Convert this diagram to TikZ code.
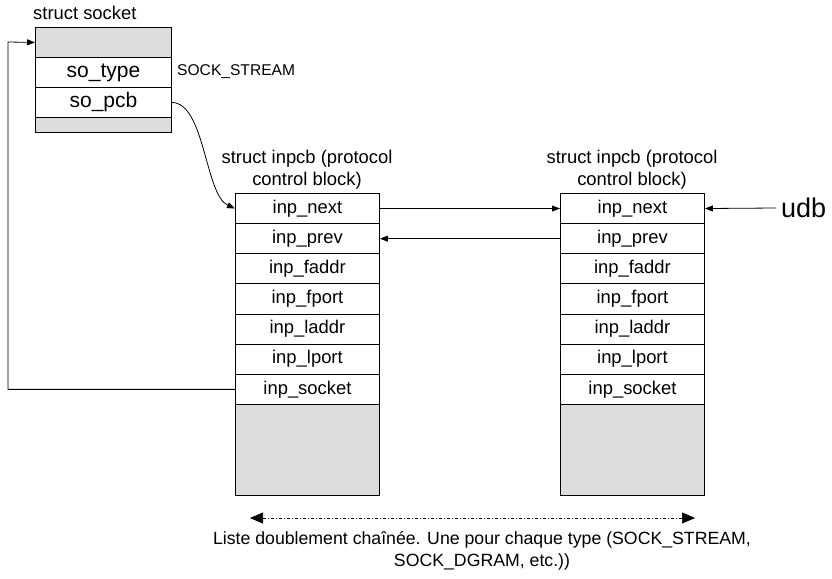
\documentclass[tikz,border=0pt]{standalone}
\usepackage{fontspec}
\setmainfont{Liberation Sans}
\usetikzlibrary{arrows.meta}
\definecolor{boxgray}{HTML}{DCDCDC}
\begin{document}
\begin{tikzpicture}[x=1pt,y=-1pt,
  fld/.style={draw, line width=0.9pt, inner sep=0pt, anchor=north west, fill=white},
  inpfld/.style={fld, minimum width=144pt, minimum height=30.14pt, font=\fontsize{18.4}{22}\selectfont},
  sockfld/.style={fld, minimum width=136pt, minimum height=30pt, font=\fontsize{21}{24}\selectfont},
  grayfld/.style={fld, fill=boxgray},
  lbl/.style={inner sep=0pt, font=\fontsize{18.4}{22}\selectfont},
  arr/.style={line width=0.8pt, -{Triangle[length=8pt,width=6pt]}},
  biarr/.style={line width=0.7pt, dash pattern=on 3pt off 2pt on 1pt off 2pt,
     {Triangle[length=13pt,width=11pt]}-{Triangle[length=13pt,width=11pt]}}
]
\useasboundingbox (0,0) rectangle (832,578);

% struct socket
\node[lbl, anchor=west] (socklbl) at (33,13) {struct socket};
\node[grayfld, minimum width=136pt, minimum height=30pt] (sockhead) at (35,27) {};
\node[sockfld] (sotype) at (35,57) {so\_type};
\node[sockfld] (sopcb) at (35,87) {so\_pcb};
\node[grayfld, minimum width=136pt, minimum height=15pt] (sockfoot) at (35,117) {};
\node[inner sep=0pt, anchor=west, font=\fontsize{15.6}{18}\selectfont] (sockstream) at (177,72) {SOCK\_STREAM};

% left inpcb
\node[lbl, align=center] (llbl) at (307,170) {struct inpcb (protocol\\control block)};
\foreach \t [count=\i] in {inp\_next,inp\_prev,inp\_faddr,inp\_fport,inp\_laddr,inp\_lport,inp\_socket}{
  \node[inpfld] (L\i) at (235,{193+(\i-1)*30.14}) {\t};
}
\node[grayfld, minimum width=144pt, minimum height=91pt] (Lgray) at (235,404) {};

% right inpcb
\node[lbl, align=center] (rlbl) at (632,170) {struct inpcb (protocol\\control block)};
\foreach \t [count=\i] in {inp\_next,inp\_prev,inp\_faddr,inp\_fport,inp\_laddr,inp\_lport,inp\_socket}{
  \node[inpfld] (R\i) at (560,{193+(\i-1)*30.14}) {\t};
}
\node[grayfld, minimum width=144pt, minimum height=91pt] (Rgray) at (560,404) {};

% udb
\node[inner sep=5pt, anchor=west, font=\fontsize{27}{30}\selectfont] (udb) at (776,208) {udb};

% connectors
\draw[arr] (sopcb.east) .. controls (205,103) and (205,195) .. (L1.west);
\draw[arr] (L1.east) -- (R1.west);
\draw[arr] (R2.west) -- (L2.east);
\draw[arr] (udb.west) -- (R1.east);
\coordinate (loop) at (8,42);
\draw[arr] (L7.west) -| (loop) -- (sockhead.west);

% doubly linked list
\coordinate (dl) at (250,518);
\coordinate (dr) at (695,518);
\draw[biarr] (dl) -- (dr);
\node[inner sep=0pt, align=center, font=\fontsize{17.7}{22}\selectfont] (caption) at (482,551) {Liste doublement chaînée. Une pour chaque type (SOCK\_STREAM,\\SOCK\_DGRAM, etc.))};
\end{tikzpicture}
\end{document}
